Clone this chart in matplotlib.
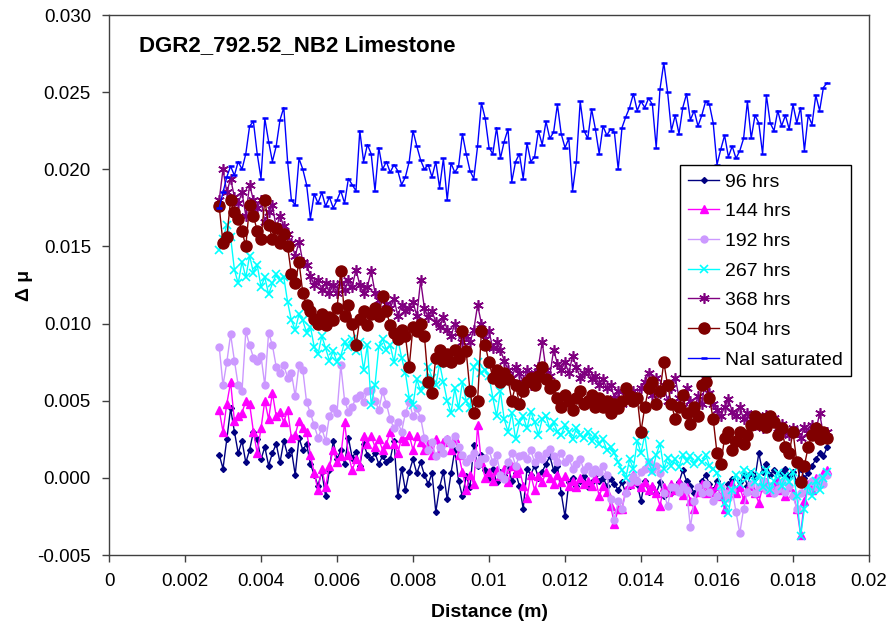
import numpy as np
import matplotlib
matplotlib.use("Agg")
import matplotlib.pyplot as plt

plt.rcParams['font.family'] = ['Liberation Sans', 'DejaVu Sans']

# Sample positions along the core (m), one every 0.1 mm
distance = np.round(np.arange(0.0029, 0.01891, 0.0001), 4)

# Change in attenuation (values in units of 1e-3)
hrs_96 = [
    1.5, 0.6, 2.5, 4.5, 3.0, 1.6, 2.4, 1.0, 1.8, 3.0,
    2.5, 1.2, 2.0, 0.8, 1.6, 2.2, 1.0, 2.4, 1.5, 1.8,
    0.2, 2.6, 1.8, 2.2, 0.9, 0.2, -0.5, 0.4, -1.2, 0.5,
    2.4, 1.2, 1.8, 0.9, 2.6, 1.3, 1.7, 0.8, 2.2, 1.5,
    1.2, 1.6, 0.9, 1.4, 1.0, 1.2, 2.4, -1.2, 0.6, -0.8,
    0.4, 1.2, 0.3, 1.0, 0.2, -0.4, 0.3, -2.2, -0.6, 0.4,
    -1.4, 0.3, 1.8, -0.2, -1.2, 0.1, -0.6, 2.1, 0.8, 1.5,
    0.5, 0.0, 0.6, -0.3, 0.4, 0.2, 0.8, -0.2, 0.3, -0.5,
    -2.0, 0.6, 0.2, 0.8, 0.0, 0.4, 0.9, 1.4, 0.5, 0.8,
    -1.0, -2.5, -0.3, 0.0, -0.5, -0.2, 0.1, -0.6, -0.3, 0.2,
    -0.2, 0.0, -0.5, -0.1, -0.4, -0.8, -0.3, -1.0, -0.5, 0.0,
    -0.4, -1.5, -0.2, -0.9, -0.6, -1.0, -0.3, -1.2, -0.8, -1.0,
    -0.6, -0.3, 0.5, -0.2, -0.5, -1.0, -0.6, -0.2, 0.2, -0.4,
    -0.8, -0.2, -0.6, -1.2, -0.4, -0.1, -0.8, -0.3, 0.2, -0.5,
    0.3, 0.0, 1.6, 0.4, 0.9, 0.2, 0.5, -0.2, 0.3, 0.6,
    0.1, 0.4, -0.3, 0.6, 0.0, 0.3, 0.8, 1.2, 1.6, 1.4,
    2.0,
]

hrs_144 = [
    4.4, 3.0, 4.8, 6.2, 3.7, 4.0, 4.2, 5.0, 4.8, 3.0,
    1.6, 3.2, 5.0, 3.8, 5.5, 4.0, 4.3, 3.6, 4.4, 2.6,
    2.8, 3.7, 3.2, 3.0, 1.5, 0.3, -0.8, 0.6, -0.6, 0.8,
    1.8, 1.0, 1.4, 3.6, 1.5, 0.5, 1.2, 0.8, 2.7, 2.2,
    2.7, 2.0, 2.5, 1.8, 2.2, 3.0, 2.2, 1.6, 2.6, 2.4,
    2.8, 1.8, 2.7, 2.3, 1.8, 2.2, 1.5, 2.5, 1.8, 2.3,
    2.5, 1.8, 2.6, 1.5, 0.4, -0.8, 0.2, -0.4, 3.4, 1.0,
    0.0, 0.4, -0.2, 0.5, 0.1, 0.6, -0.3, 0.8, 0.3, 0.6,
    -0.5, -1.3, 0.2, -0.8, 0.1, -0.3, 0.4, 0.0, -0.4, 0.2,
    -0.3, 0.1, -0.5, -0.2, -0.6, 0.0, -0.4, -0.2, -0.5, 0.0,
    -1.2, -0.5, -0.9, -1.8, -3.0, -2.0, -2.0, -0.8, -0.4, 0.2,
    -0.2, -0.6, -0.3, -0.8, -0.5, -1.0, -1.8, -0.6, -0.9, -0.4,
    -0.8, -0.3, -1.1, -0.6, -1.5, -2.0, -0.9, -0.4, -1.0, -0.6,
    -0.9, -0.5, -1.2, -2.0, -0.8, -0.4, -1.0, -0.6, -1.4, -0.8,
    -0.5, -1.0, -1.6, -0.6, -0.3, -0.9, -0.5, -0.2, -0.8, -1.2,
    -0.6, -1.0, -2.0, -3.7, -1.5, -0.4, -0.8, 0.0, -0.3, 0.3,
    0.5,
]

hrs_192 = [
    8.5, 6.0, 7.5, 9.3, 7.6, 6.0, 5.6, 9.5, 8.6, 7.8,
    7.6, 7.9, 6.0, 9.4, 8.6, 7.2, 6.8, 7.3, 6.5, 6.8,
    5.3, 7.3, 7.0, 4.9, 4.2, 3.4, 2.6, 3.2, 2.4, 4.0,
    4.5, 4.2, 7.3, 5.0, 4.3, 4.6, 5.2, 5.4, 4.9, 5.6,
    5.7, 5.0, 4.4, 5.6, 4.8, 3.8, 3.2, 3.6, 3.0, 4.2,
    4.9, 4.0, 4.5, 3.9, 2.6, 1.8, 2.3, 1.4, 2.0, 1.6,
    2.5, 2.2, 2.7, 2.0, 1.5, 1.0, 1.3, 1.6, 0.9, 1.2,
    1.3, 1.8, 1.0, 1.5, 0.2, -0.1, 1.0, 1.6, 0.8, 1.4,
    1.5, 1.2, 1.8, 1.0, 1.5, 1.2, 1.6, 1.9, 1.4, 1.0,
    1.6, 1.0, 1.3, 0.6, 0.9, 1.2, 0.5, 0.8, 0.3, 0.6,
    0.4, 0.8, 0.2, -1.4, -2.7, -1.5, -2.0, -1.0, -0.3, 0.1,
    -0.2, 0.4, 0.6, 1.0, 0.5, 0.8, 0.3, -1.0, -1.8, -0.6,
    -0.6, -0.9, -0.5, -0.8, -3.2, -1.5, -0.6, -1.0, -0.4, -0.9,
    -1.5, -1.2, -0.6, -1.0, -1.3, -0.8, -2.2, -3.6, -2.0, -0.9,
    -0.4, -1.0, -0.6, -0.2, -0.8, -0.5, -1.0, -0.7, -0.3, -0.9,
    -0.5, -1.2, -2.0, -1.0, -0.4, -0.8, -0.2, -0.6, 0.0, -0.4,
    0.2,
]

hrs_267 = [
    14.8, 15.5, 16.4, 15.6, 13.5, 12.6, 14.0, 13.0, 14.4, 13.3,
    13.8, 12.4, 13.0, 11.9, 12.6, 13.2, 12.8, 13.0, 11.4, 10.2,
    9.6, 10.6, 10.2, 9.4, 9.8, 8.5, 8.0, 9.2, 8.4, 7.6,
    8.2, 7.5, 7.9, 8.8, 8.5, 9.0, 8.2, 8.8, 7.0, 8.6,
    4.7, 6.0, 8.5, 9.0, 8.3, 8.6, 7.5, 9.0, 7.8, 6.8,
    5.2, 4.7, 6.4, 5.6, 6.0, 7.2, 6.5, 6.0, 7.4, 6.2,
    5.0, 4.2, 5.8, 4.5, 6.2, 5.0, 4.5, 7.2, 7.5, 6.8,
    7.0, 6.6, 5.2, 4.0, 5.6, 3.8, 3.0, 4.2, 2.5, 3.6,
    4.0, 3.2, 4.3, 3.6, 2.8, 3.8, 4.0, 3.2, 3.6, 3.0,
    2.8, 3.4, 3.0, 2.5, 3.2, 2.8, 2.6, 3.0, 2.4, 2.8,
    2.2, 2.5, 1.8, 2.0, 1.6, 1.0, 0.5, 0.0, 1.2, 0.6,
    2.4, 1.6, 2.8, 1.0, 0.4, 1.5, 2.2, 0.6, 1.3, 0.8,
    1.2, 0.7, 1.5, 1.1, 1.4, 0.9, 1.3, 1.0, 1.5, 0.8,
    0.6, 0.3, -0.5, -1.6, -2.3, -0.8, 0.2, -0.4, 0.5, 0.0,
    0.4, -0.3, 0.2, -0.6, 0.5, -0.8, -0.2, 0.3, -0.5, 0.1,
    -0.3, 0.4, -1.2, -3.8, -2.0, -0.5, -1.2, -0.2, -0.8, 0.0,
    0.4,
]

hrs_368 = [
    18.0, 20.0, 18.5, 19.4, 18.2, 17.8, 18.5, 17.0, 19.0, 18.0,
    17.5, 18.0, 16.6, 17.2, 17.7, 16.2, 17.0, 16.3, 15.8, 15.2,
    14.4, 15.3, 14.0, 13.8, 13.1, 12.5, 12.8, 12.2, 12.6, 12.0,
    12.5, 12.0, 12.6, 12.2, 12.8, 12.4, 13.5, 12.5, 12.0, 12.4,
    13.4, 12.0, 11.5, 11.8, 11.3, 11.0, 11.6, 10.5, 11.2, 10.8,
    11.0, 11.4, 10.5, 12.8, 11.0, 10.4, 10.8, 10.1, 9.8, 10.4,
    9.6, 9.2, 10.0, 9.4, 8.8, 9.2, 8.8, 9.6, 11.2, 10.0,
    9.0, 9.5, 8.4, 8.8, 8.3, 7.6, 7.0, 6.5, 7.2, 6.8,
    6.2, 7.0, 6.0, 6.8, 7.2, 8.8, 7.0, 6.6, 8.3, 7.4,
    7.0, 7.5, 6.8, 7.9, 7.2, 6.5, 6.8, 7.0, 6.4, 6.6,
    6.0, 6.4, 5.8, 6.0, 5.2, 5.6, 4.8, 5.4, 5.0, 5.6,
    5.2, 5.8, 6.2, 6.8, 5.4, 6.5, 5.5, 6.0, 5.0, 5.8,
    6.5, 5.2, 4.6, 5.8, 5.0, 4.5, 5.3, 4.8, 6.4, 5.5,
    4.8, 4.4, 4.0, 4.6, 5.1, 4.3, 4.0, 4.6, 3.8, 4.2,
    3.6, 3.4, 3.9, 3.2, 4.1, 3.6, 3.9, 3.2, 3.5, 3.0,
    2.8, 3.2, 3.0, 2.6, 3.3, 2.9, 3.4, 3.0, 4.2, 2.8,
    3.0,
]

hrs_504 = [
    17.6, 15.2, 15.6, 18.0, 17.2, 16.8, 16.0, 15.0, 17.7, 17.0,
    16.0, 15.5, 18.0, 16.4, 15.5, 16.2, 15.2, 15.8, 15.0, 13.2,
    12.6, 14.0, 12.0, 11.2, 10.8, 10.3, 10.0, 10.6, 9.9, 10.4,
    10.2, 11.0, 13.4, 10.5, 11.2, 10.0, 8.6, 10.3, 10.8, 9.9,
    10.6, 11.0, 10.5, 11.8, 10.8, 9.9, 9.4, 9.0, 9.6, 9.2,
    7.2, 9.8, 9.5, 10.0, 9.2, 6.2, 5.5, 7.8, 8.3, 7.6,
    8.0, 7.5, 8.3, 7.8, 9.5, 8.2, 5.6, 4.2, 5.0, 9.5,
    8.6, 7.5, 6.5, 7.0, 6.2, 6.8, 6.4, 5.0, 6.0, 4.8,
    5.6, 6.2, 6.5, 6.0, 6.6, 7.2, 6.4, 5.8, 6.0, 5.2,
    4.6, 5.4, 5.0, 4.4, 5.2, 5.6, 4.8, 5.0, 5.4, 4.6,
    5.2, 4.6, 5.0, 4.2, 4.8, 4.5, 5.0, 5.8, 5.3, 5.0,
    5.2, 3.0, 4.6, 5.8, 6.2, 4.8, 5.6, 7.5, 6.0, 4.8,
    3.8, 4.6, 5.4, 4.2, 3.5, 4.6, 4.0, 6.0, 6.2, 5.2,
    3.8, 1.6, 0.9, 2.6, 3.0, 1.8, 2.4, 3.0, 2.2, 2.8,
    3.4, 4.0, 3.5, 3.8, 3.3, 4.0, 3.6, 2.8, 3.2, 2.0,
    1.6, 3.0, 1.0, -0.3, 0.8, 2.0, 2.8, 3.2, 2.5, 3.0,
    2.6,
]

nai_saturated = [
    17.5, 18.5, 19.5, 20.2, 19.6, 20.5, 20.0, 21.0, 22.8, 23.1,
    21.0, 19.4, 23.3, 21.8, 20.5, 21.5, 23.2, 24.0, 20.5, 18.0,
    17.7, 20.7, 20.0, 19.0, 16.8, 18.4, 17.8, 18.5, 17.6, 18.2,
    17.5, 18.0, 18.6, 17.8, 19.4, 19.0, 18.6, 22.5, 20.5, 21.6,
    21.0, 18.6, 21.4, 20.0, 20.5, 19.8, 20.3, 19.9, 19.0, 19.5,
    20.5, 22.5, 21.5, 20.6, 20.0, 20.3, 19.5, 20.5, 18.8, 20.7,
    18.0, 20.4, 19.8, 20.2, 22.3, 21.0, 19.9, 19.4, 21.5, 24.3,
    23.3, 21.4, 21.0, 22.7, 20.7, 21.8, 22.6, 19.2, 20.5, 21.0,
    19.4, 21.7, 20.5, 20.8, 22.5, 21.6, 23.1, 22.0, 22.4, 24.2,
    22.3, 21.4, 22.0, 18.6, 20.5, 24.4, 22.5, 22.0, 23.9, 22.6,
    21.0, 22.8, 22.2, 22.6, 22.4, 20.0, 22.7, 23.4, 24.0, 24.9,
    23.8, 24.4, 24.0, 24.6, 24.2, 21.4, 25.2, 26.9, 25.0, 22.5,
    23.5, 22.3, 24.0, 24.9, 23.2, 23.8, 22.8, 23.5, 24.4, 24.2,
    23.0, 20.3, 21.3, 22.2, 20.8, 21.5, 20.7, 21.2, 22.0, 24.4,
    22.0, 23.5, 23.0, 21.0, 24.8, 23.0, 22.5, 23.8, 22.8, 23.5,
    22.6, 24.2, 23.0, 24.0, 21.2, 23.5, 22.9, 24.8, 23.8, 25.3,
    25.6,
]

series_labels = ["96 hrs", "144 hrs", "192 hrs", "267 hrs", "368 hrs",
                 "504 hrs", "NaI saturated"]

x_ticks = [0, 0.002, 0.004, 0.006, 0.008, 0.01, 0.012, 0.014, 0.016, 0.018, 0.02]
x_tick_labels = ["0", "0.002", "0.004", "0.006", "0.008", "0.01", "0.012",
                 "0.014", "0.016", "0.018", "0.02"]
y_ticks = [-0.005, 0.0, 0.005, 0.010, 0.015, 0.020, 0.025, 0.030]
y_tick_labels = ["-0.005", "0.000", "0.005", "0.010", "0.015", "0.020",
                 "0.025", "0.030"]

styles = [
    dict(color="#000080", marker="D", markersize=3.0),
    dict(color="#FF00FF", marker="^", markersize=5.2),
    dict(color="#CC99FF", marker="o", markersize=5.0),
    dict(color="#00FFFF", marker="x", markersize=5.6, markeredgewidth=1.2),
    dict(color="#800080", marker=(6, 2, 0), markersize=7.6, markeredgewidth=1.2),
    dict(color="#800000", marker="o", markersize=8.0),
    dict(color="#0000FF", marker="_", markersize=5.0, markeredgewidth=1.8),
]

all_series = [hrs_96, hrs_144, hrs_192, hrs_267, hrs_368, hrs_504, nai_saturated]

fig = plt.figure(figsize=(8.88, 6.31), dpi=100)
ax = fig.add_axes([109 / 888, 76 / 631, 760 / 888, 540 / 631])

for vals, label, st in zip(all_series, series_labels, styles):
    ax.plot(distance, np.array(vals) * 1e-3, linewidth=1.0, label=label, **st)

ax.set_xlim(0, 0.02)
ax.set_ylim(-0.005, 0.030)
ax.set_xticks(x_ticks)
ax.set_xticklabels(x_tick_labels)
ax.set_yticks(y_ticks)
ax.set_yticklabels(y_tick_labels)
ax.tick_params(direction="out", length=5, width=1, colors="#404040",
               labelcolor="black", labelsize=13.5, pad=8)
for sp in ax.spines.values():
    sp.set_color("#404040")
    sp.set_linewidth(1.0)

ax.set_xlabel("Distance (m)", fontsize=14, fontweight="bold", labelpad=10)
ax.set_ylabel("Δ μ", fontsize=14, fontweight="bold", labelpad=3)

ax.text(0.04, 0.944, "DGR2_792.52_NB2 Limestone", transform=ax.transAxes,
        fontsize=16, fontweight="bold", ha="left", va="center")

leg = ax.legend(loc="upper right", bbox_to_anchor=(0.976, 0.722),
                fontsize=14.0, frameon=True, fancybox=False, framealpha=1,
                edgecolor="black", borderaxespad=0, handlelength=1.6,
                handletextpad=0.3, labelspacing=0.62, borderpad=0.4)
leg.get_frame().set_linewidth(1.0)

fig.savefig("out.png", dpi=100)
